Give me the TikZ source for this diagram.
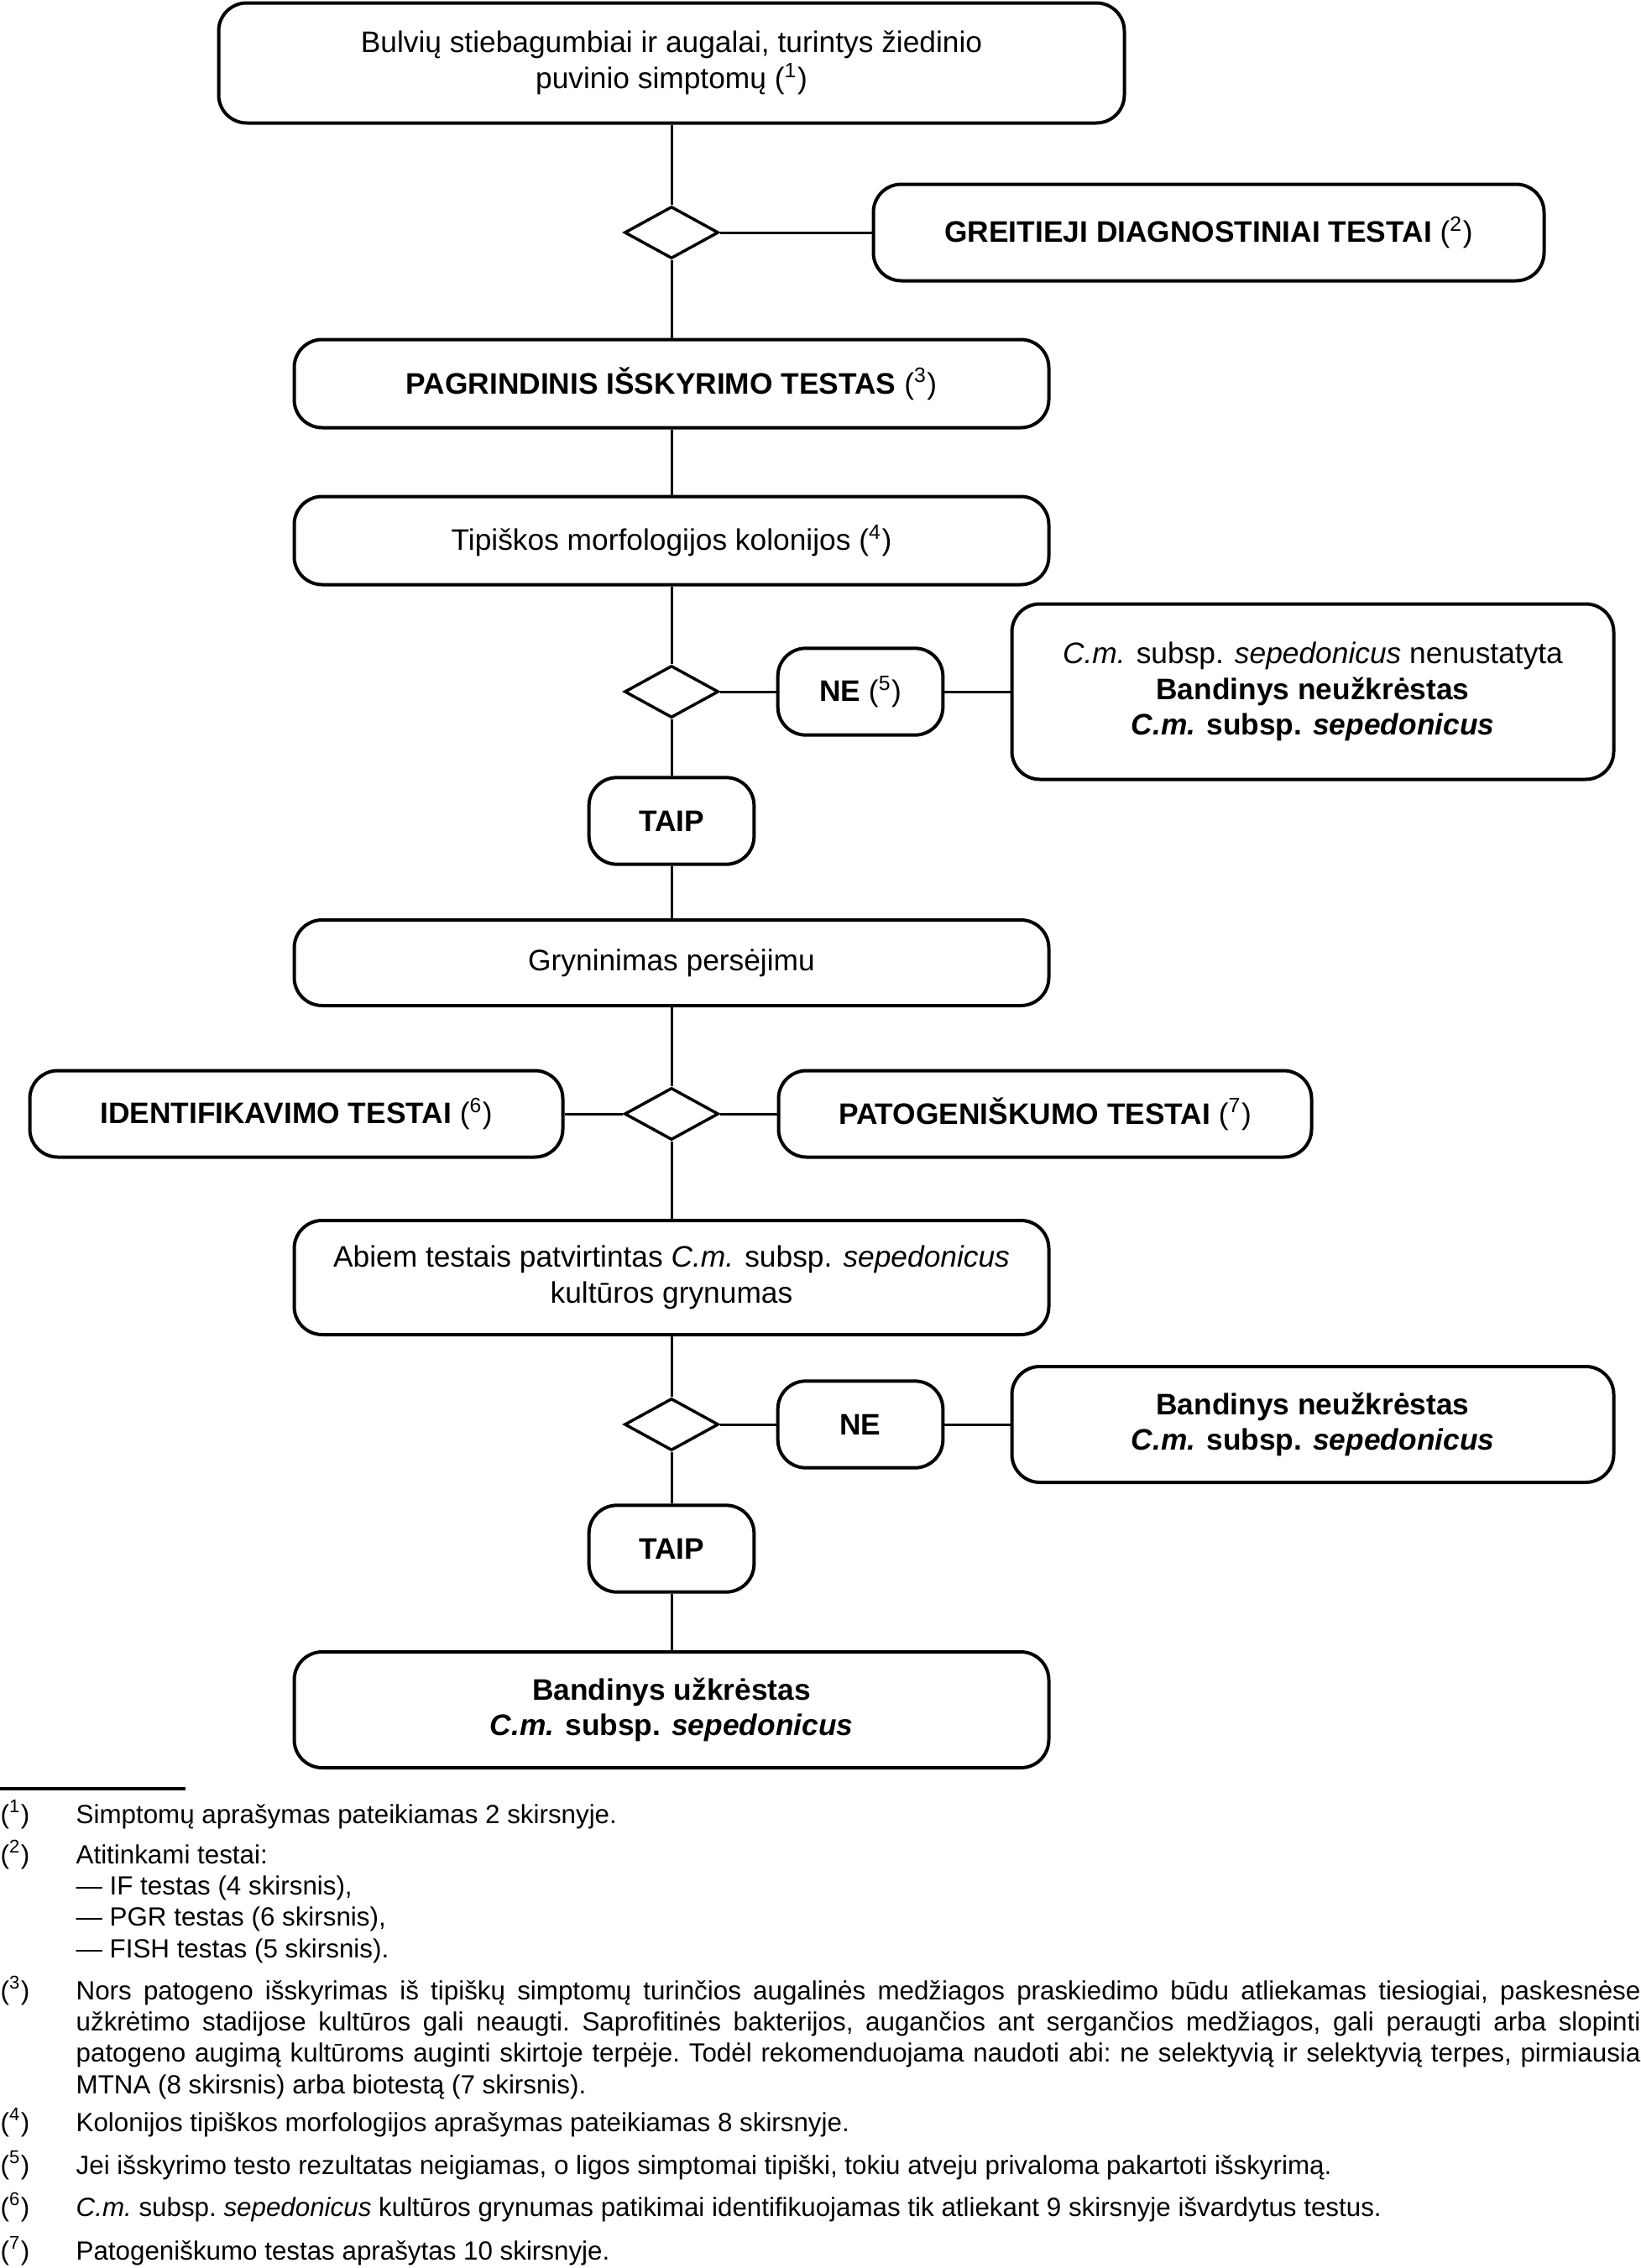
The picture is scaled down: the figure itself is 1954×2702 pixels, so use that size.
\documentclass[tikz,border=0pt]{standalone}
\usepackage{fontspec}
\setmainfont{Liberation Sans}
\usetikzlibrary{shapes.geometric}

\begin{document}
\begin{tikzpicture}[
    x=0.3pt, y=-0.3pt,
    box/.style={draw, line width=1.2pt, rounded corners=10pt, inner sep=0pt,
                align=center, font=\fontsize{10.6}{12.8}\selectfont},
    wide/.style={box, minimum width=269.7pt, minimum height=31.5pt},
    small/.style={box, minimum width=59pt, minimum height=31pt},
    side/.style={box, minimum width=215.1pt},
    test/.style={box, minimum width=190.5pt, minimum height=30.9pt},
    dec/.style={draw, diamond, line width=1.05pt, minimum width=33.6pt,
                minimum height=18.6pt, inner sep=0pt},
    conn/.style={line width=0.9pt},
    fnmark/.style={anchor=base west, inner sep=0pt, font=\fontsize{9.4}{11.2}\selectfont},
    fn/.style={anchor=base west, inner sep=0pt, text width=559.2pt, align=justify,
               font=\fontsize{9.4}{11.2}\selectfont\frenchspacing}
  ]
    \useasboundingbox (0,0) rectangle (1954,2702);

    % main column
    \node[box, minimum width=323.7pt, minimum height=42.9pt] (start) at (800,75)
      {Bulvių stiebagumbiai ir augalai, turintys žiedinio\\puvinio simptomų (\textsuperscript{1})};
    \node[dec] (d1) at (800,277) {};
    \node[box, minimum width=239.7pt, minimum height=34.5pt] (rapid) at (1440,277)
      {\textbf{GREITIEJI DIAGNOSTINIAI TESTAI} (\textsuperscript{2})};
    \node[wide] (isol) at (800,457) {\textbf{PAGRINDINIS IŠSKYRIMO TESTAS} (\textsuperscript{3})};
    \node[wide] (colon) at (800,644) {Tipiškos morfologijos kolonijos (\textsuperscript{4})};
    \node[dec] (d2) at (800,824) {};
    \node[small] (ne1) at (1025,824) {\textbf{NE} (\textsuperscript{5})};
    \node[side, minimum height=62.7pt] (negres1) at (1564,824)
      {\textit{C.m.} subsp. \textit{sepedonicus} nenustatyta\\
       \textbf{Bandinys neužkrėstas}\\
       \textbf{\textit{C.m.} subsp. \textit{sepedonicus}}};
    \node[small] (taip1) at (800,978) {\textbf{TAIP}};
    \node[wide, minimum height=30.6pt] (purif) at (800,1147) {Gryninimas persėjimu};
    \node[dec] (d3) at (800,1327) {};
    \node[test] (ident) at (353,1327) {\textbf{IDENTIFIKAVIMO TESTAI} (\textsuperscript{6})};
    \node[test] (patho) at (1245,1327) {\textbf{PATOGENIŠKUMO TESTAI} (\textsuperscript{7})};
    \node[wide, minimum height=40.8pt] (conf) at (800,1522)
      {Abiem testais patvirtintas \textit{C.m.} subsp. \textit{sepedonicus}\\kultūros grynumas};
    \node[dec] (d4) at (800,1697) {};
    \node[small] (ne2) at (1025,1697) {\textbf{NE}};
    \node[side, minimum height=41.4pt] (negres2) at (1564,1697)
      {\textbf{Bandinys neužkrėstas}\\\textbf{\textit{C.m.} subsp. \textit{sepedonicus}}};
    \node[small] (taip2) at (800,1845) {\textbf{TAIP}};
    \node[wide, minimum height=41.4pt] (posres) at (800,2037)
      {\textbf{Bandinys užkrėstas}\\\textbf{\textit{C.m.} subsp. \textit{sepedonicus}}};

    \draw[conn] (start) -- (d1);
    \draw[conn] (d1) -- (rapid);
    \draw[conn] (d1) -- (isol);
    \draw[conn] (isol) -- (colon);
    \draw[conn] (colon) -- (d2);
    \draw[conn] (d2) -- (ne1);
    \draw[conn] (ne1) -- (negres1);
    \draw[conn] (d2) -- (taip1);
    \draw[conn] (taip1) -- (purif);
    \draw[conn] (purif) -- (d3);
    \draw[conn] (d3) -- (ident);
    \draw[conn] (d3) -- (patho);
    \draw[conn] (d3) -- (conf);
    \draw[conn] (conf) -- (d4);
    \draw[conn] (d4) -- (ne2);
    \draw[conn] (ne2) -- (negres2);
    \draw[conn] (d4) -- (taip2);
    \draw[conn] (taip2) -- (posres);

    % footnotes
    \draw[line width=1.2pt] (0,2131) -- (221,2131);
    \node[fnmark] (fn1m) at (0,2172) {(\textsuperscript{1})};
    \node[fn] (fn1) at (90,2172) {Simptomų aprašymas pateikiamas 2 skirsnyje.};
    \node[fnmark] (fn2m) at (0,2220) {(\textsuperscript{2})};
    \node[fn] (fn2) at (90,2220) {Atitinkami testai:\newline
      — IF testas (4 skirsnis),\newline — PGR testas (6 skirsnis),\newline — FISH testas (5 skirsnis).};
    \node[fnmark] (fn3m) at (0,2382) {(\textsuperscript{3})};
    \node[fn] (fn3) at (90,2382) {\hyphenpenalty=10000 Nors patogeno išskyrimas iš tipiškų simptomų turinčios augalinės medžiagos praskiedimo būdu atliekamas tiesiogiai, paskesnėse\linebreak
      užkrėtimo stadijose kultūros gali neaugti. Saprofitinės bakterijos, augančios ant sergančios medžiagos, gali peraugti arba slopinti\linebreak
      patogeno augimą kultūroms auginti skirtoje terpėje. Todėl rekomenduojama naudoti abi: ne selektyvią ir selektyvią terpes, pirmiausia\linebreak
      MTNA (8 skirsnis) arba biotestą (7 skirsnis).};
    \node[fnmark] (fn4m) at (0,2539) {(\textsuperscript{4})};
    \node[fn] (fn4) at (90,2539) {Kolonijos tipiškos morfologijos aprašymas pateikiamas 8 skirsnyje.};
    \node[fnmark] (fn5m) at (0,2590) {(\textsuperscript{5})};
    \node[fn] (fn5) at (90,2590) {Jei išskyrimo testo rezultatas neigiamas, o ligos simptomai tipiški, tokiu atveju privaloma pakartoti išskyrimą.};
    \node[fnmark] (fn6m) at (0,2640) {(\textsuperscript{6})};
    \node[fn] (fn6) at (90,2640) {\textit{C.m.} subsp. \textit{sepedonicus} kultūros grynumas patikimai identifikuojamas tik atliekant 9 skirsnyje išvardytus testus.};
    \node[fnmark] (fn7m) at (0,2692) {(\textsuperscript{7})};
    \node[fn] (fn7) at (90,2692) {Patogeniškumo testas aprašytas 10 skirsnyje.};
  \end{tikzpicture}
\end{document}
